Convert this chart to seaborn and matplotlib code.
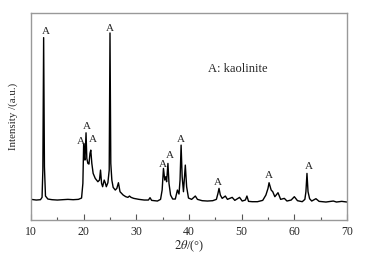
import pandas as pd
import matplotlib
matplotlib.use("Agg")
import matplotlib.pyplot as plt
import seaborn as sns

# XRD pattern (2theta in degrees, intensity in a.u.)
two_theta = [10.0, 11.0, 11.8, 12.1, 12.25, 12.4, 12.55, 12.75, 13.2, 14.0,
             15.0, 16.0, 17.0, 18.0, 19.0, 19.6, 19.85, 20.0, 20.15, 20.25,
             20.45, 20.6, 20.8, 21.0, 21.2, 21.35, 21.55, 21.8, 22.2, 22.7,
             23.0, 23.2, 23.4, 23.6, 23.9, 24.1, 24.3, 24.6, 24.85, 25.0,
             25.15, 25.35, 25.6, 26.0, 26.3, 26.6, 26.9, 27.5, 28.0, 28.4,
             28.7, 29.0, 29.5, 30.5, 31.5, 32.3, 32.6, 32.9, 34.0, 34.6,
             34.9, 35.15, 35.4, 35.6, 35.75, 36.0, 36.2, 36.5, 36.9, 37.4,
             37.8, 38.1, 38.3, 38.5, 38.7, 38.95, 39.3, 39.55, 39.9, 40.5,
             41.2, 41.6, 42.5, 43.5, 44.5, 45.2, 45.5, 45.7, 45.95, 46.3,
             46.9, 47.3, 48.2, 48.7, 49.6, 50.1, 50.7, 51.0, 51.3, 52.0,
             53.0, 54.0, 54.6, 55.0, 55.2, 55.6, 55.9, 56.3, 56.9, 57.4,
             58.1, 58.6, 59.4, 60.0, 60.6, 61.5, 62.0, 62.2, 62.4, 62.6,
             62.9, 63.3, 64.1, 64.7, 66.0, 67.4, 68.0, 69.0, 70.0]
intensity = [62, 60, 61, 68, 150, 548, 160, 72, 63, 61,
             60, 61, 62, 61, 62, 66, 110, 230, 185, 180,
             262, 185, 170, 168, 200, 210, 170, 140, 125, 115,
             120, 150, 110, 100, 120, 112, 100, 112, 150, 562,
             170, 120, 98, 90, 95, 112, 85, 75, 70, 68,
             72, 68, 65, 62, 60, 60, 67, 59, 57, 62,
             90, 155, 120, 130, 115, 170, 110, 75, 63, 63,
             90, 78, 120, 225, 130, 85, 165, 100, 66, 62,
             72, 62, 58, 57, 58, 62, 80, 95, 75, 65,
             72, 62, 68, 59, 68, 57, 60, 72, 56, 55,
             55, 59, 75, 95, 112, 90, 85, 70, 82, 62,
             65, 57, 60, 70, 58, 55, 62, 85, 140, 85,
             64, 57, 64, 56, 54, 57, 54, 56, 54]

# "A" (kaolinite) peak markers
label_theta = [12.9, 25.06, 19.5, 20.57, 21.75, 35.05, 36.45, 38.42, 45.57, 55.25, 62.85]
label_int = [567, 575, 237, 280, 242, 168, 195, 242, 112, 135, 160]

df = pd.DataFrame({"two_theta": two_theta, "intensity": intensity})

sns.set_style("ticks")
plt.rcParams["font.family"] = ["Liberation Serif", "DejaVu Serif"]
plt.rcParams["mathtext.fontset"] = "stix"

fig = plt.figure(figsize=(3.65, 2.63), dpi=100)
ax = fig.add_axes([31 / 365, 1 - 220 / 263, 316 / 365, 207 / 263])

sns.lineplot(data=df, x="two_theta", y="intensity", ax=ax,
             color="black", linewidth=1.0)

for t, i in zip(label_theta, label_int):
    ax.text(t, i, "A", ha="center", va="center", fontsize=8)
ax.text(43.7, 455, "A: kaolinite", ha="left", va="center", fontsize=9)

ax.set_xlim(10, 70)
ax.set_ylim(0, 622)
ax.set_xticks(range(10, 71, 10))
ax.set_xticks(range(15, 70, 10), minor=True)
ax.set_yticks([])
ax.tick_params(axis="x", which="major", direction="in", length=4, width=0.8,
               labelsize=8.5, pad=4, color="#555555")
ax.tick_params(axis="x", which="minor", direction="in", length=2.5, width=0.8,
               color="#555555")
for sp in ax.spines.values():
    sp.set_visible(True)
    sp.set_color("#999999")
    sp.set_linewidth(1.0)

ax.set_xlabel(r"$2\theta$/(°)", fontsize=9, labelpad=1)
ax.set_ylabel("Intensity /(a.u.)", fontsize=7.8, labelpad=9)

fig.savefig("out.png", dpi=100)
